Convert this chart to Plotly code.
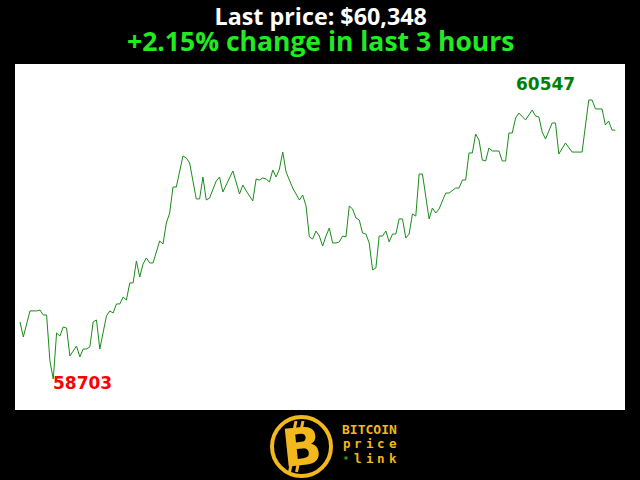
import plotly.graph_objects as go

# ---- data (minute index within the last 3 hours, BTC price in USD) ----
minutes = [0, 1, 3, 5, 6, 7, 8, 9, 10, 11, 12, 13, 14, 15, 17, 18, 19, 20, 21, 22,
           23, 24, 26, 27, 28, 29, 30, 31, 32, 33, 34, 35, 36, 37, 38, 39, 40, 41, 42, 43,
           44, 45, 46, 47, 49, 50, 51, 53, 54, 55, 56, 57, 59, 60, 61, 64, 66, 67, 68, 70,
           71, 72, 73, 74, 75, 76, 77, 78, 79, 80, 82, 84, 85, 86, 87, 88, 89, 90, 91, 92,
           93, 94, 95, 96, 97, 98, 99, 100, 101, 102, 103, 104, 105, 106, 107, 108, 109, 110, 111, 112,
           113, 114, 115, 116, 117, 118, 119, 120, 121, 123, 124, 125, 126, 128, 129, 131, 132, 133, 134, 135,
           136, 137, 138, 139, 140, 141, 142, 144, 145, 146, 147, 148, 149, 150, 152, 154, 155, 156, 157, 158,
           160, 161, 162, 164, 166, 169, 171, 172, 173, 175, 176, 177, 178, 179]
prices = [59080, 58981, 59153, 59153, 59159, 59126, 59126, 58822, 58703, 59007, 58987, 59047, 59040, 58855, 58921, 58849, 58901, 58901, 58915, 59080,
          59093, 58901, 59120, 59153, 59139, 59199, 59199, 59245, 59225, 59338, 59338, 59483, 59377, 59463, 59503, 59470, 59470, 59542, 59615, 59595,
          59734, 59800, 59972, 59972, 60177, 60164, 60131, 59893, 59893, 60038, 59886, 59899, 60012, 60038, 59939, 60078, 59926, 59985, 59946, 59880,
          60025, 60018, 60032, 60025, 60005, 60084, 60038, 60091, 60203, 60071, 59965, 59886, 59919, 59846, 59642, 59628, 59681, 59648, 59582, 59648,
          59701, 59602, 59602, 59609, 59648, 59642, 59846, 59827, 59767, 59754, 59668, 59661, 59602, 59424, 59437, 59648, 59648, 59681, 59609, 59661,
          59661, 59761, 59761, 59635, 59661, 59794, 59780, 60058, 60058, 59761, 59833, 59800, 59827, 59932, 59932, 59965, 59965, 60018, 60018, 60197,
          60197, 60322, 60283, 60150, 60144, 60230, 60210, 60210, 60144, 60144, 60329, 60329, 60428, 60461, 60415, 60481, 60441, 60435, 60336, 60289,
          60395, 60395, 60190, 60263, 60203, 60203, 60547, 60547, 60488, 60488, 60382, 60408, 60348, 60348]

title_price = "Last price: $60,348"
title_change = "+2.15% change in last 3 hours"
logo_lines = ["BITCOIN", "price", "link"]

# ---- derived ----
hi = max(prices)
lo = min(prices)
i_hi = minutes[prices.index(hi)]
i_lo = minutes[prices.index(lo)]

fig = go.Figure()
fig.add_trace(go.Scatter(x=minutes, y=prices, mode="lines",
                         line=dict(color="#1a8c1a", width=1), hoverinfo="skip"))

W, H = 640, 480
L, R, T, B = 15, 15, 64, 70


def px(x):
    return (x - L) / (W - L - R)


def py(y):
    return (H - B - y) / (H - T - B)


fig.update_layout(
    width=W, height=H,
    margin=dict(l=L, r=R, t=T, b=B, pad=0),
    paper_bgcolor="black", plot_bgcolor="white",
    showlegend=False,
    xaxis=dict(range=[-1.5, 181.9], visible=False, showgrid=False, zeroline=False),
    yaxis=dict(range=[58498, 60785], visible=False, showgrid=False, zeroline=False),
)

gold = "#f2b81c"
ann = []
# high / low labels
ann.append(dict(x=i_hi, y=hi, xref="x", yref="y", text=f"<b>{hi}</b>", showarrow=False,
                font=dict(family="DejaVu Sans", size=17, color="#008000"),
                xshift=-43, yshift=16))
ann.append(dict(x=i_lo, y=lo, xref="x", yref="y", text=f"<b>{lo}</b>", showarrow=False,
                font=dict(family="DejaVu Sans", size=17, color="#ff0000"),
                xshift=29, yshift=-4))
# two-line title as one text block
title_text = (f"<span style='font-size:23.3px;color:white'><b>{title_price}</b></span><br>"
              f"<span style='font-size:26.5px;color:#22ea22'><b>{title_change}</b></span>")
ann.append(dict(x=0.5, y=py(29), xref="paper", yref="paper", text=title_text,
                showarrow=False, font=dict(family="Open Sans", size=20, color="white"),
                xanchor="center", yanchor="middle"))
# logo text: BITCOIN as one word, "price" / "link" letter-spaced
ann.append(dict(x=px(369.5), y=py(429), xref="paper", yref="paper", text=f"<b>{logo_lines[0]}</b>",
                showarrow=False, xanchor="center", yanchor="middle",
                font=dict(family="DejaVu Sans Mono", size=13, color=gold)))
for k, ch in enumerate(logo_lines[1]):
    ann.append(dict(x=px(347 + 11.4 * k), y=py(443.5), xref="paper", yref="paper", text=f"<b>{ch}</b>",
                    showarrow=False, xanchor="center", yanchor="middle",
                    font=dict(family="DejaVu Sans Mono", size=12.5, color=gold)))
for k, ch in enumerate(logo_lines[2]):
    ann.append(dict(x=px(358 + 11.6 * k), y=py(458), xref="paper", yref="paper", text=f"<b>{ch}</b>",
                    showarrow=False, xanchor="center", yanchor="middle",
                    font=dict(family="DejaVu Sans Mono", size=12.5, color=gold)))
# logo B
ann.append(dict(x=px(302), y=py(447), xref="paper", yref="paper", text="<b>B</b>",
                showarrow=False, xanchor="center", yanchor="middle", textangle=-6,
                font=dict(family="DejaVu Sans", size=52, color=gold)))
fig.update_layout(annotations=ann)

shapes = [
    dict(type="circle", xref="paper", yref="paper", x0=px(272), x1=px(331), y0=py(476), y1=py(417),
         line=dict(color=gold, width=4), fillcolor="black", layer="below"),
    # bitcoin bars
    dict(type="line", xref="paper", yref="paper", x0=px(296), x1=px(294.5), y0=py(421), y1=py(428),
         line=dict(color=gold, width=3)),
    dict(type="line", xref="paper", yref="paper", x0=px(303), x1=px(301.5), y0=py(421), y1=py(428),
         line=dict(color=gold, width=3)),
    dict(type="line", xref="paper", yref="paper", x0=px(291), x1=px(289.5), y0=py(465), y1=py(472),
         line=dict(color=gold, width=3)),
    dict(type="line", xref="paper", yref="paper", x0=px(298), x1=px(296.5), y0=py(465), y1=py(472),
         line=dict(color=gold, width=3)),
    # chain link inside the B stem
    dict(type="circle", xref="paper", yref="paper", x0=px(289), x1=px(295), y0=py(448), y1=py(436),
         line=dict(color="black", width=1.5)),
    dict(type="circle", xref="paper", yref="paper", x0=px(288), x1=px(294), y0=py(458), y1=py(446),
         line=dict(color="black", width=1.5)),
    # green dot before "link"
    dict(type="rect", xref="paper", yref="paper", x0=px(344.5), x1=px(347.5), y0=py(459.5), y1=py(456.5),
         line=dict(width=0), fillcolor="#1fa01f"),
]
fig.update_layout(shapes=shapes)

fig.write_html("out.html", config={"displayModeBar": False, "staticPlot": True},
               post_script="document.body.style.margin='0';")
